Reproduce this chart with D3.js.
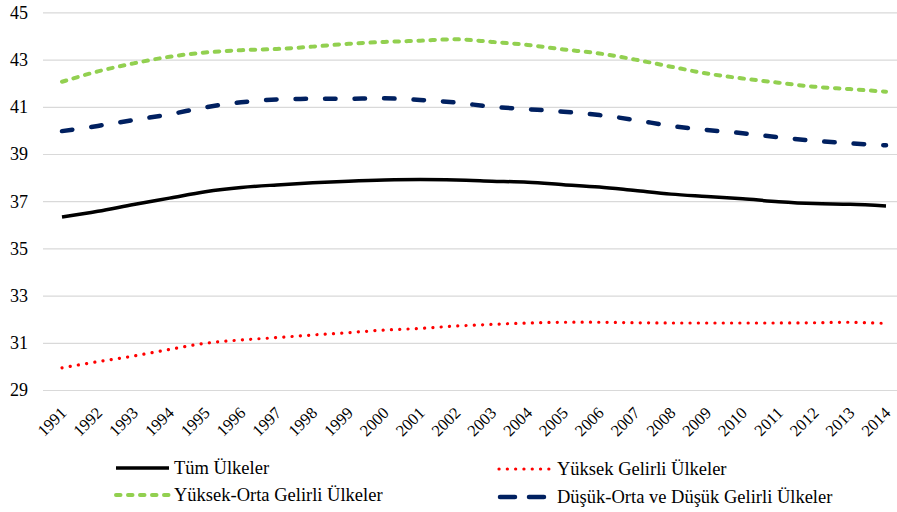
<!DOCTYPE html>
<html>
<head>
<meta charset="utf-8">
<script src="https://cdn.jsdelivr.net/npm/d3@7"></script>
<style>
  html, body { margin: 0; padding: 0; background: #fff; }
  svg { display: block; }
</style>
</head>
<body>
<svg id="chart" width="897" height="512"></svg>
<script>
const years = ["1991","1992","1993","1994","1995","1996","1997","1998","1999","2000","2001","2002","2003","2004","2005","2006","2007","2008","2009","2010","2011","2012","2013","2014"];
const yTicks = [29, 31, 33, 35, 37, 39, 41, 43, 45];

const tumUlkeler = [36.33, 36.57, 36.86, 37.13, 37.4, 37.58, 37.69, 37.78, 37.85, 37.9, 37.92, 37.9, 37.85, 37.8, 37.7, 37.6, 37.45, 37.3, 37.2, 37.1, 36.98, 36.9, 36.87, 36.8];
const yuksekGelirli = [29.94, 30.2, 30.44, 30.72, 30.98, 31.12, 31.22, 31.33, 31.43, 31.54, 31.61, 31.71, 31.78, 31.84, 31.87, 31.87, 31.85, 31.84, 31.84, 31.84, 31.84, 31.85, 31.87, 31.82];
const yuksekOrtaGelirli = [42.06, 42.5, 42.84, 43.12, 43.3, 43.4, 43.45, 43.55, 43.67, 43.75, 43.8, 43.86, 43.75, 43.62, 43.43, 43.26, 43.0, 42.7, 42.41, 42.2, 42.02, 41.85, 41.75, 41.64];
const dusukGelirli = [39.97, 40.19, 40.44, 40.68, 40.98, 41.19, 41.31, 41.34, 41.34, 41.36, 41.29, 41.18, 41.0, 40.9, 40.79, 40.65, 40.44, 40.19, 40.02, 39.88, 39.71, 39.56, 39.45, 39.37];

const seriesNames = ["Tüm Ülkeler", "Yüksek Gelirli Ülkeler", "Yüksek-Orta Gelirli Ülkeler", "Düşük-Orta ve Düşük Gelirli Ülkeler"];

const FONT = "\"Liberation Serif\", \"Times New Roman\", Times, serif";

const styles = [
  { color: "#000000", width: 3.5, dash: null, cap: "butt" },
  { color: "#FF0000", width: 3.2, dash: "0.1,8.2", cap: "round" },
  { color: "#92D050", width: 4, dash: "4.5,7.5", cap: "round" },
  { color: "#002060", width: 4.5, dash: "10.5,19", cap: "round" }
];
const seriesValues = [tumUlkeler, yuksekGelirli, yuksekOrtaGelirli, dusukGelirli];
const series = seriesNames.map((name, i) => ({
  name, style: styles[i],
  values: years.map((y, j) => ({ year: y, value: seriesValues[i][j] }))
}));

const svg = d3.select("#chart");

const x = d3.scalePoint().domain(years).range([62, 886]);
const y = d3.scaleLinear().domain([29, 45]).range([390, 12.4]);

// gridlines + y labels
const yAxis = d3.axisLeft(y).tickValues(yTicks).tickSize(-(897 - 43)).tickFormat(d3.format("d")).tickPadding(15);
const gy = svg.append("g").attr("transform", "translate(43,0)").call(yAxis);
gy.attr("font-family", null).attr("font-size", null);
gy.select(".domain").remove();
gy.selectAll(".tick line").attr("stroke", "#D9D9D9").attr("stroke-width", 1.2);
gy.selectAll(".tick text")
  .style("font-family", FONT)
  .style("font-size", "18px")
  .attr("fill", "#000")
  .attr("dy", "0.33em");

// x axis labels
const xAxis = d3.axisBottom(x).tickSize(0).tickPadding(0);
const gx = svg.append("g").attr("transform", "translate(0,390)").call(xAxis);
gx.attr("font-family", null).attr("font-size", null);
gx.select(".domain").remove();
gx.selectAll(".tick text")
  .style("font-family", FONT)
  .style("font-size", "16.5px")
  .attr("fill", "#000")
  .attr("text-anchor", "end")
  .attr("dy", null)
  .attr("y", null)
  .attr("transform", "translate(5,24) rotate(-45)");

// lines
const line = d3.line()
  .x(d => x(d.year))
  .y(d => y(d.value))
  .curve(d3.curveCatmullRom.alpha(0.5));

svg.append("g").selectAll("path")
  .data(series)
  .join("path")
  .attr("d", d => line(d.values))
  .attr("fill", "none")
  .attr("stroke", d => d.style.color)
  .attr("stroke-width", d => d.style.width)
  .attr("stroke-dasharray", d => d.style.dash)
  .attr("stroke-linecap", d => d.style.cap)
  .attr("stroke-linejoin", "round");

// legend
const legendPos = [
  { x: 115, y: 468 },
  { x: 498, y: 469 },
  { x: 115, y: 495 },
  { x: 498, y: 497 }
];
const legend = svg.append("g").selectAll("g")
  .data(series)
  .join("g")
  .attr("transform", (d, i) => `translate(${legendPos[i].x},${legendPos[i].y})`);

legend.append("line")
  .attr("x1", (d, i) => i === 3 ? 2 : 1)
  .attr("x2", 54)
  .attr("y1", 0).attr("y2", 0)
  .attr("stroke", d => d.style.color)
  .attr("stroke-width", d => d.style.width)
  .attr("stroke-dasharray", (d, i) => i === 3 ? "15,14" : d.style.dash)
  .attr("stroke-linecap", d => d.style.cap);

legend.append("text")
  .attr("x", 59)
  .attr("y", 0)
  .attr("dy", "0.35em")
  .style("font-family", FONT)
  .style("font-size", "18.5px")
  .attr("fill", "#000")
  .text(d => d.name);
</script>
</body>
</html>
